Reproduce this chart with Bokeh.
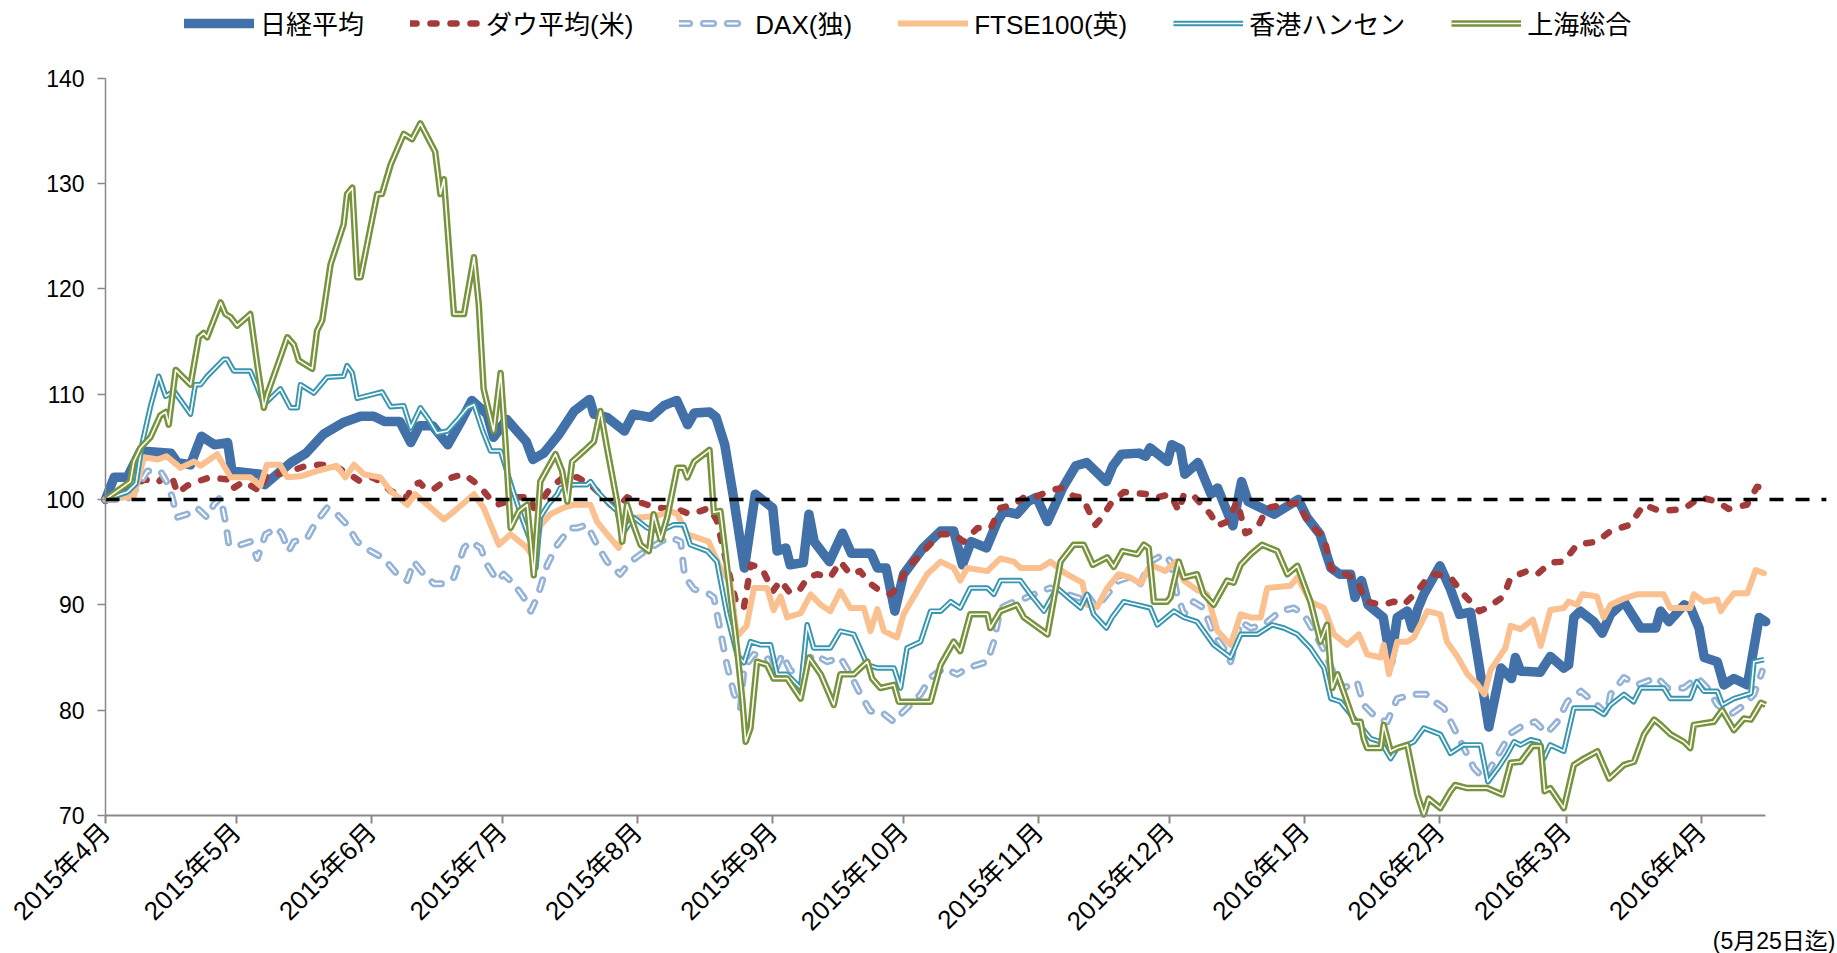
import math
from bokeh.plotting import figure
from bokeh.models import FixedTicker, Legend, LegendItem, Label, Range1d
from bokeh.embed import file_html
from bokeh.resources import INLINE

# ---------------- data (day offsets from 2015-04-01, index level, start = 100) ----------------
series_names = ["日経平均", "ダウ平均(米)", "DAX(独)", "FTSE100(英)", "香港ハンセン", "上海総合"]

month_labels = ["2015年4月", "2015年5月", "2015年6月", "2015年7月", "2015年8月", "2015年9月",
                "2015年10月", "2015年11月", "2015年12月", "2016年1月", "2016年2月", "2016年3月",
                "2016年4月"]
month_days = [0, 30, 61, 91, 122, 153, 183, 214, 244, 275, 306, 335, 366]
y_ticks = [70, 80, 90, 100, 110, 120, 130, 140]
base_level = 100
note_text = "(5月25日迄)"

nikkei_d = [0, 2, 5, 8, 15, 16.5, 19.5, 22, 25, 28, 29, 35.5, 36.5, 42.5, 46, 50, 54.5, 58.5, 61.5, 64,
            67.5, 70, 72, 75, 78.5, 81.5, 84, 87.5, 89, 92, 96.5, 98, 100.5, 104, 107.5, 111, 112, 115,
            119, 121, 125, 128, 131, 133.5, 135, 138.5, 140, 142, 144, 146.5, 149, 153, 154, 156, 157,
            160, 161.3, 162.5, 166, 169, 171, 175.5, 177, 179, 181, 183, 187.5, 190, 191.5, 194.5,
            196.5, 198.5, 202, 204.5, 206, 209, 211.5, 213.5, 216, 219.5, 222.5, 225, 229.5, 231, 233,
            237, 238.5, 239.5, 243.5, 244.5, 246.5, 247.5, 250.5, 253.5, 255, 258.5, 260.5, 262, 268,
            273.5, 275.5, 278.5, 281, 283, 285.5, 286.5, 288, 289.5, 293, 294.7, 296.2, 298.5, 299.6,
            301, 302.3, 306, 308.4, 310.5, 313, 315, 317.2, 320, 322.4, 323.3, 324.5, 329, 331.3,
            334.4, 335.5, 336.7, 338.2, 341.3, 343.2, 345.1, 348.2, 350, 352, 355.5, 356.6, 358.5,
            362, 363.5, 365.4, 366.6, 369.6, 371.1, 373.4, 376.5, 379.2, 380.7]
nikkei_v = [100, 102.1, 102.1, 104.6, 104.4, 103.5, 103.3, 106, 105.2, 105.4, 102.7, 102.4, 101.4,
            103.5, 104.4, 106.2, 107.3, 107.9, 107.9, 107.4, 107.4, 105.4, 107, 107, 105.2, 107.4,
            109.4, 108.1, 105.9, 107.6, 105.5, 103.8, 104.4, 106.2, 108.4, 109.5, 108.1, 107.8, 106.5,
            108.1, 107.8, 108.9, 109.4, 107.1, 108.2, 108.3, 107.8, 105.2, 100.2, 93.5, 100.5, 99.2,
            95.1, 95.4, 93.8, 94.0, 98.6, 96, 94.1, 96.8, 94.9, 94.9, 93.5, 93.5, 89.4, 92.9, 95.4,
            96.4, 97, 97, 93.8, 96, 95.4, 97.9, 98.9, 98.6, 99.8, 100.2, 97.9, 101.1, 103.2, 103.5,
            101.7, 103.2, 104.3, 104.4, 104.1, 104.9, 103.6, 105.2, 104.8, 102.4, 103.5, 100.5, 101.1,
            97.5, 101.7, 99.8, 98.6, 100, 98.3, 96.7, 93.5, 92.9, 92.9, 90.7, 92.3, 90, 88.8, 84.6,
            88.8, 89.4, 87.8, 89.7, 91.0, 93.7, 91.5, 89.1, 89.3, 84.2, 78.4, 84, 83, 85, 83.7, 83.6,
            85.1, 84, 84.3, 88.8, 89.4, 88.4, 87.3, 89.1, 90.3, 89.1, 87.8, 87.8, 89.4, 88.4, 90,
            89.7, 87.8, 85, 84.6, 82.4, 83, 82.4, 88.8, 88.4]

dow_d = [0, 4.5, 9, 12, 14, 15.3, 16.5, 18.7, 21, 24, 28, 29, 31.7, 35.5, 37, 40.5, 42.5, 46, 49, 52.5,
         54.6, 57, 58.5, 61.2, 63, 65.4, 67, 69.2, 70.3, 72, 73.4, 75.3, 77.6, 79.5, 82.2, 84.5, 86.7,
         88.7, 89.8, 92, 94.4, 97.5, 98.2, 100, 102, 105, 108.2, 111.2, 113.5, 115.8, 118, 119.6, 122,
         124.2, 126.5, 131, 134, 136.4, 138.5, 140.2, 142.5, 144.8, 146.4, 148, 150.5, 153, 154.8,
         157, 159.3, 161, 163.2, 166.2, 168.5, 170.8, 173, 175.4, 177.7, 180, 181.5, 183.8, 186, 189,
         191.5, 194.5, 196.8, 200, 203, 205.2, 208.3, 210.6, 213, 217, 219.5, 222, 224, 225.5, 227,
         228.5, 230.8, 233.5, 238.9, 241.2, 244.2, 246.1, 247.3, 249.6, 253.4, 254.9, 257.2, 259.5,
         261.4, 264.1, 266.4, 270.2, 273.3, 276.3, 279.4, 281, 282.5, 284.7, 287, 289, 293, 295.4,
         297.7, 300.8, 303.8, 305.3, 308.4, 311.4, 315, 316.8, 320.6, 322.2, 326, 328.3, 331.3, 334.4,
         337.4, 342, 345.1, 349.6, 352.7, 356.5, 361.9, 365.7, 369.5, 372.2, 376.4, 378.7, 380.2]
dow_v = [100, 101, 101.9, 101.6, 102.4, 102.1, 100.6, 101.3, 101.7, 102.1, 101.9, 101, 101.7, 100.8,
         102.4, 102.5, 102.7, 103.2, 103.3, 103.2, 102.7, 102.1, 101.7, 102.1, 101.7, 100.8, 100.5,
         100.2, 101.3, 101.6, 101, 101, 101.7, 102.1, 102.4, 101.7, 100.8, 99.8, 99.5, 99.8, 100.2,
         100.2, 99.2, 99.9, 101.1, 102.1, 102.1, 101.4, 100.5, 99.5, 99.5, 100.2, 99.8, 99.5, 99.2,
         99.1, 98.6, 98.9, 99.2, 98, 93.8, 89.9, 89.8, 93.8, 93.5, 91.3, 92.3, 91.1, 91.5, 92.6, 92.9,
         92.6, 94.1, 92.9, 93.2, 92, 91.3, 91, 91.6, 93.5, 94.4, 95.7, 96.7, 96.7, 96, 97.3, 97.3,
         99.2, 99.5, 100.2, 100.2, 100.9, 101.1, 100.3, 100.2, 98.9, 97.6, 98.3, 99.8, 100.7, 100.5,
         100.2, 100.5, 98.9, 100.5, 100.3, 98.6, 97.5, 97.9, 99.8, 96.8, 97.3, 99.2, 99.5, 99.7, 97.6,
         96.4, 93.5, 92.9, 92.9, 92.3, 90.3, 90, 90.3, 90, 91.3, 92.9, 92.9, 92.6, 91, 89.4, 89.7, 90.8,
         92.6, 93.2, 92.9, 94, 94.1, 95.7, 96, 97, 97.6, 99.5, 98.9, 99.1, 100.2, 99.8, 99.1, 99.5,
         101.2, 101.1]

dax_d = [0, 5, 7.3, 9.6, 12.6, 14, 15.3, 16.4, 18.7, 21, 23.3, 24.8, 26.4, 27.5, 28.3, 31, 33.2, 34.8,
         36.7, 39.4, 40.5, 42, 43.2, 46.2, 48.2, 50.8, 52.4, 55.4, 57.7, 60.8, 63.8, 66.9, 69.2, 70.7,
         73, 75.3, 77.6, 79.9, 82.2, 83.7, 86, 87.5, 89.8, 91.3, 93.6, 95.9, 97.5, 99, 101.3, 103.6,
         106.6, 108.2, 110.4, 112.7, 115, 118, 120.4, 122.7, 125, 127.3, 129.6, 131.9, 132.8, 134.9,
         138.5, 139.5, 141, 142.5, 144.1, 145.6, 146.4, 148.7, 151.7, 153.2, 155.2, 157.1, 160.1,
         162.4, 165.5, 168.5, 170.8, 173.1, 175.4, 177.7, 180.8, 182.3, 183.8, 186.9, 189.2, 192.2,
         195.3, 197.6, 199.9, 202.2, 203.7, 205.2, 208.3, 211.3, 214.4, 216.7, 219, 222, 224.3, 225.1,
         227.2, 229.7, 232.3, 234.6, 237.3, 239.6, 242.7, 244.2, 245.7, 247.3, 249.5, 251.8, 254.1,
         256.4, 258, 260.3, 262.6, 265.6, 269.4, 272.5, 274.8, 277, 279.4, 281.7, 284, 287, 288.5,
         291.6, 293.9, 296.2, 300, 302.8, 303.8, 306.9, 309.2, 311.5, 313.8, 316.1, 318.4, 322.2,
         325.2, 327.8, 330.5, 332.9, 335.2, 338.3, 342, 344.3, 345.1, 348.2, 351.2, 355.8, 358.1,
         361.9, 365, 367.3, 369.6, 372.7, 375.8, 378, 379.9]
dax_v = [100, 100, 101.1, 102.7, 102.7, 101.7, 100.2, 98.3, 98.6, 99.2, 98.3, 99.5, 100.2, 97.9, 95.7,
         95.7, 96, 94.4, 96.7, 97.3, 96.7, 95.1, 96, 96.3, 97.8, 99.2, 98.9, 97.6, 96, 95.1, 94.4, 92.9,
         92.3, 94.1, 92.9, 92, 92, 92.6, 95.4, 96, 95.4, 93.8, 92.3, 92.9, 92, 90.7, 89.4, 90.7, 93.8,
         95.7, 97.3, 97.3, 97.6, 95.7, 94.1, 92.9, 94.1, 94.8, 95.4, 96, 96.4, 96, 92.7, 91.5, 91,
         90.7, 87.5, 84.3, 81.6, 80.2, 84, 85.3, 85, 83.4, 85.3, 83.7, 84.3, 85.3, 84.6, 85, 83.4,
         81.5, 79.9, 79.9, 78.9, 79.6, 80.2, 81.5, 83.1, 84, 83.4, 84, 84.3, 84.6, 86.5, 89.7, 90.3,
         90.7, 91.3, 91.6, 91.2, 90.8, 90.5, 91, 89.7, 91, 92.3, 92.6, 92, 94.1, 94.8, 94.1, 91, 89.1,
         90.3, 89.7, 87.2, 85.9, 84.6, 88.4, 87.8, 88.1, 89.4, 89.7, 89.1, 87.5, 85.7, 83.4, 82.1,
         82.7, 80.5, 79.2, 78.9, 81.1, 81.5, 81.5, 81.1, 80.2, 78.3, 76.4, 74.5, 73.5, 75.1, 77.8,
         78.6, 78.9, 77.8, 78.9, 80.8, 81.8, 80.5, 79.6, 81.5, 83.1, 82.4, 83.1, 82.1, 82.1, 83.1,
         82.1, 80.5, 79.6, 80.5, 81.5, 83.7]

ftse_d = [0, 6.5, 8.8, 12, 14, 17.2, 20.3, 21.8, 25.6, 28.7, 33.2, 35.5, 37, 40, 41.7, 44.7, 49.3, 53,
          55, 57, 59.2, 63, 65.4, 69.2, 71, 73.8, 77.6, 80, 84.5, 86.7, 90.2, 92.9, 96.7, 98.2, 99.7,
          102, 105, 107.4, 111.2, 112.7, 115, 117.7, 119.6, 122, 126, 129.6, 131.1, 133.4, 138.3, 141,
          143.3, 144.8, 147, 148.7, 151.7, 153.2, 154.8, 156.3, 159.4, 161.7, 164, 166.2, 168.5, 170.8,
          173.9, 175.4, 177, 178.5, 181.5, 183, 186.1, 188.4, 191.5, 194.5, 196, 197.6, 202.2, 205.2,
          208.3, 209.8, 214.4, 216.7, 220, 224, 225.1, 227.4, 229.7, 232.3, 235, 237.3, 239.6, 243,
          245.4, 247.3, 250.3, 252.6, 255, 258, 260.3, 262.6, 264.9, 266.4, 271.7, 273.3, 276.3, 279.4,
          281.7, 284.7, 287.4, 289.3, 292.4, 293.1, 294.3, 296.2, 298.5, 300, 301.5, 303.1, 306.1,
          307.6, 310, 312.3, 314.5, 316.2, 317.6, 321, 322.2, 324.5, 327.3, 329.1, 331.3, 334.4, 335.5,
          337.4, 338.6, 342, 343.5, 345.1, 348.2, 351.2, 357.3, 358.8, 363.4, 364.2, 366.5, 369.6,
          370.4, 371.9, 373.4, 376.5, 378.4, 380.3]
ftse_v = [100, 100.3, 104, 103.8, 104.1, 103, 103.6, 103.2, 104.3, 102.1, 102.1, 101.3, 103.3, 103.3,
          102.1, 102.2, 102.8, 103.2, 102.1, 103.3, 102.4, 102.1, 100.8, 99.5, 100.5, 99.5, 98.1, 98.9,
          100.5, 99.2, 95.7, 96.7, 95.4, 94.4, 97.5, 98.6, 99.2, 99.5, 99.5, 97.9, 96.7, 95.4, 97.9,
          98.3, 98.4, 98.9, 98.6, 96.7, 96, 93.5, 92, 87, 88, 91.6, 91.6, 89.5, 90.8, 88.8, 89.2, 91,
          90, 89.4, 91.3, 89.7, 89.7, 87.5, 89.6, 87.5, 86.9, 89.1, 91.3, 92.9, 94.1, 93.5, 92.3, 93.5,
          93.2, 94.4, 94.1, 93.5, 93.5, 94.1, 93, 92.1, 90, 89.8, 91.6, 92.9, 92.6, 92, 93.8, 93.2,
          94.1, 92.3, 91.4, 91, 87.5, 86.2, 89.1, 88.8, 88.8, 91.6, 91.8, 92.6, 90.3, 89.7, 87.2, 86.2,
          87.2, 85.3, 85, 86.2, 83.4, 86.5, 86.5, 86.9, 88.1, 89.4, 89.1, 86.5, 85.1, 83.4, 82.5, 81.5,
          83.8, 85.9, 88, 87.7, 88.6, 86.1, 89.5, 89.7, 90.3, 90, 91, 90.8, 88.8, 90, 90.6, 91, 91,
          89.7, 89.7, 91, 90.3, 90.5, 89.4, 90.3, 91.1, 91.1, 93.3, 93]

hsi_d = [0, 5, 7, 8.5, 10.3, 12.2, 13.8, 15.7, 19.5, 20.6, 21.8, 23.3, 27.1, 27.9, 29.4, 33.2, 34.8,
         36.3, 40.1, 42.4, 44, 44.7, 47.8, 50.8, 54.6, 55.4, 56.6, 57.7, 61.5, 63.4, 65.4, 68.4, 70,
         72.2, 74.1, 76, 78.4, 80.6, 83, 84.5, 86.5, 88.3, 90.6, 93.3, 95.7, 97.5, 98.7, 99.7, 101.5,
         103.6, 104.3, 107.4, 110.4, 111.2, 112.7, 115, 117.3, 118.5, 121.1, 124.2, 127.3, 130.3,
         132.6, 134.1, 138, 140.2, 142.5, 144.8, 146.4, 147.9, 150.2, 152.5, 154, 156.3, 159.4, 160.9,
         162.4, 166.2, 168.5, 171.6, 174.7, 177, 180.8, 182.3, 183.8, 186.9, 189.2, 191.5, 193.8, 196,
         198.3, 202.2, 203.7, 205.2, 209.8, 212.1, 215.2, 218.2, 221.3, 223.6, 225.1, 226.6, 229.5,
         230.8, 233.5, 236.6, 239.6, 241.2, 245, 247.3, 250.3, 254.1, 258, 260.3, 264.1, 267.5, 270.2,
         273.3, 276.3, 279.4, 281, 283.2, 285.5, 287, 290.1, 292.4, 294.7, 296.2, 298.5, 300, 302.3,
         306.1, 308.4, 311.4, 315.3, 317, 319.5, 321.4, 323, 324.5, 326.8, 328.7, 329.8, 331.3, 334.4,
         336.7, 341.3, 343.6, 345.1, 348.2, 350.4, 352, 357.3, 358.8, 363.4, 364.9, 366.5, 369.6,
         370.8, 373.4, 377.3, 378, 380.3]
hsi_v = [100, 100.7, 101.5, 105.5, 108.8, 111.7, 109.8, 110.3, 108.1, 110.9, 110.9, 111.7, 113.3, 113.3,
         112.2, 112.2, 110.6, 109, 110.5, 108.7, 108.7, 110.9, 110.1, 111.6, 111.7, 112.7, 112, 109.6,
         110, 110.2, 108.8, 108.9, 106.8, 108.7, 107.6, 106.3, 106.5, 107.5, 108.7, 109, 106.5, 104.6,
         104.6, 101, 98, 96, 93.5, 98.3, 99.5, 100.5, 101.1, 101.4, 101.4, 101.7, 100.8, 99.8, 98.9,
         96.7, 98.3, 97.3, 97, 97.6, 97.6, 95.7, 95.1, 94.1, 89.1, 85.3, 84.5, 86.5, 86.2, 86.2, 83.4,
         83.4, 82.1, 88.1, 85.9, 85.9, 87.5, 87.2, 84.3, 84, 84, 82.1, 85.9, 86.5, 89.4, 89.4, 90.3,
         89.7, 91.6, 91.6, 91, 92.3, 92.3, 91, 89.4, 91.6, 90.5, 89.7, 91, 89.1, 87.8, 88.8, 90.3, 90,
         89.7, 88.1, 89.4, 88.8, 88.4, 86.2, 85, 87.2, 87.2, 88.1, 87.8, 87.2, 85.9, 84, 81.1, 80.8,
         79.6, 78.9, 77.3, 77, 75.4, 76.4, 76.7, 77, 78.3, 77.7, 75.9, 76.7, 76.7, 73.2, 74.6, 75.8, 77,
         76.7, 77.2, 77, 75.4, 76.7, 76.1, 80.2, 80.2, 79.6, 80.5, 81.5, 80.8, 82.1, 82.1, 81.1, 81.1,
         82.7, 81.8, 81.8, 80.5, 81.1, 81.6, 84.6, 84.8]

shc_d = [0, 5.7, 6.5, 8, 10.3, 12.6, 13.8, 14.5, 16.1, 19.5, 21.4, 22.5, 23.3, 26.4, 27.5, 28.7, 30.2,
         33.2, 34.8, 36.3, 37.1, 40.1, 41.7, 43.2, 44.3, 47.4, 48.5, 49.7, 51.6, 54.6, 55.4, 56.6, 57.7,
         58.5, 62.3, 63.4, 65.4, 68.4, 70.3, 72.2, 75.6, 76.8, 77.6, 79.1, 79.9, 82.2, 84.5, 85.6, 86.7,
         89, 90.6, 91.7, 92.9, 94.8, 96.7, 98.2, 99.7, 103.2, 104.7, 105.9, 107, 109.7, 112, 113.5, 115,
         117.3, 118.5, 119.6, 120.8, 122.7, 124.6, 125.7, 127.3, 128.8, 131.1, 132.6, 133.4, 135,
         138.5, 139.5, 141, 143.3, 144.8, 146, 146.8, 147.9, 149.4, 151.7, 153.2, 156.3, 159.4, 161.3,
         164, 167, 168.5, 171.6, 174.7, 175.8, 177.7, 180.8, 181.9, 189.2, 191.5, 194.5, 196, 198.3,
         202.2, 202.9, 205.2, 209, 210.6, 216, 219, 222, 224.3, 226.4, 229.7, 231.2, 233.2, 236.6,
         238.1, 239.2, 240.4, 243.4, 244.2, 246.1, 247.3, 250.3, 251.8, 254.1, 257.2, 258.7, 260.3,
         262.6, 265.2, 268.7, 271, 273.3, 276.3, 278.6, 280.1, 281.3, 282.5, 284.7, 286.3, 287.8,
         288.5, 289.3, 292.4, 293.1, 294.7, 296.2, 298.5, 300.8, 302.3, 303.4, 306.1, 308.4, 309.5,
         312.2, 316.8, 320.3, 322.2, 324.5, 327.2, 329.1, 330, 331.3, 334.4, 336.7, 339, 342.1, 344.8,
         348.2, 350.5, 352.8, 355.1, 356.6, 358.9, 361.9, 363.4, 364.2, 368.8, 370.7, 373.4, 375.7,
         377.3, 379.6, 380.7]
shc_v = [100, 101.7, 103.6, 104.9, 105.9, 108, 108.3, 107.1, 112.3, 110.9, 115.4, 115.8, 115.4, 118.7,
         117.6, 117.3, 116.5, 117.6, 112.8, 108.7, 110, 113.5, 115.4, 114.7, 113.2, 112.4, 116, 117,
         122.3, 126.1, 129, 129.6, 121.1, 121.1, 129, 129, 131.8, 134.7, 134.2, 135.7, 133, 129, 130.4,
         122, 117.6, 117.6, 123, 118.5, 110.5, 106.5, 112, 105.5, 97.3, 98.9, 99.5, 92.8, 101.7, 104.3,
         102.7, 99.8, 103.6, 104.6, 105.5, 108.4, 104.9, 99.8, 96, 99.5, 97.9, 95.7, 95.1, 98.6, 96.2,
         98.3, 103, 103, 102.1, 103.6, 104.7, 98.8, 98.9, 91, 85.9, 81.1, 77, 78.3, 84.6, 84.3, 83, 83,
         81.1, 85, 83.4, 80.5, 83.4, 83.4, 84.6, 83, 82.1, 82.4, 80.8, 80.8, 84.3, 86.5, 85.6, 89.1,
         89.1, 87.8, 89.4, 90, 88.8, 87.2, 94.1, 95.7, 95.7, 93.8, 94.5, 93.6, 95.1, 94.8, 95.7, 95.4,
         90.3, 90.3, 90.7, 94.1, 92.6, 92.9, 91, 90, 92.3, 92.1, 93.8, 94.8, 95.7, 95.1, 92.9, 93.7,
         90.3, 86.5, 88.1, 82.1, 83.4, 80.8, 78.9, 78.9, 77.3, 76.4, 76.4, 78.6, 76.1, 76.4, 76.7, 72,
         70.1, 71.6, 70.7, 72.3, 72.9, 72.6, 72.6, 72, 75, 75.1, 76.6, 76.6, 72.3, 72.6, 70.7, 74.8,
         75.4, 76.1, 73.5, 74.8, 75.1, 77.7, 79.1, 78.6, 77.7, 77, 76.4, 78.6, 78.9, 80, 78.1, 79.2,
         79.1, 80.7, 80.5]

# ---------------- layout / style ----------------
FONT = "'Liberation Sans', 'Noto Sans CJK JP', sans-serif"
W, H = 1837, 953
X0_PX, X_PX_PER_DAY = 105, 4.361          # pixel of day 0, px per day
Y_TOP_PX, Y_BOT_PX = 77.6, 815.0          # pixels of 140 and 70
Y_PX_PER_UNIT = (Y_BOT_PX - Y_TOP_PX) / 70.0
axis_end_day = 380.7
ref_line_end = 394.6

x_start = -X0_PX / X_PX_PER_DAY
x_stop = (W - X0_PX) / X_PX_PER_DAY
y_stop = 140 + Y_TOP_PX / Y_PX_PER_UNIT
y_start = 70 - (H - Y_BOT_PX) / Y_PX_PER_UNIT

p = figure(width=W, height=H, x_range=Range1d(x_start, x_stop), y_range=Range1d(y_start, y_stop),
           output_backend="svg", toolbar_location=None, min_border=0,
           min_border_left=0, min_border_right=0, min_border_top=0, min_border_bottom=0)
p.xgrid.visible = False
p.ygrid.visible = False
p.outline_line_color = None
p.background_fill_color = "white"
p.border_fill_color = "white"

AX = "#898989"
xa = p.xaxis[0]
xa.fixed_location = 70
xa.ticker = FixedTicker(ticks=month_days)
xa.major_label_overrides = {d: lab for d, lab in zip(month_days, month_labels)}
xa.major_label_orientation = math.pi / 4
xa.bounds = (0, axis_end_day)
xa.axis_line_color = AX
xa.axis_line_width = 2
xa.major_tick_line_color = AX
xa.major_tick_line_width = 2
xa.major_tick_out = 8
xa.major_tick_in = 0
xa.minor_tick_line_color = None
xa.major_label_text_font = FONT
xa.major_label_text_font_size = "26px"
xa.major_label_text_color = "black"
xa.major_label_standoff = 4

ya = p.yaxis[0]
ya.fixed_location = 0
ya.ticker = FixedTicker(ticks=y_ticks)
ya.bounds = (70, 140)
ya.axis_line_color = AX
ya.axis_line_width = 1.5
ya.major_tick_line_color = AX
ya.major_tick_line_width = 1.5
ya.major_tick_out = 8
ya.major_tick_in = 0
ya.minor_tick_line_color = None
ya.major_label_text_font = FONT
ya.major_label_text_font_size = "23px"
ya.major_label_text_color = "black"
ya.major_label_standoff = 13

common = dict(line_join="round")
r_nk = [p.line(nikkei_d, nikkei_v, line_color="#4270A8", line_width=9.5, line_cap="round", **common)]
r_dow = [p.line(dow_d, dow_v, line_color="#A33B3A", line_width=6.5, line_dash="6 14",
                line_cap="round", **common)]
r_dax = [p.line(dax_d, dax_v, line_color="#95B3D7", line_width=7, line_dash="10 14",
                line_cap="round", **common),
         p.line(dax_d, dax_v, line_color="white", line_width=1.8, line_dash="10 14",
                line_cap="round", **common)]
r_ftse = [p.line(ftse_d, ftse_v, line_color="#FAC08F", line_width=6, line_cap="round", **common)]
r_hsi = [p.line(hsi_d, hsi_v, line_color="#3996B1", line_width=5.5, **common),
         p.line(hsi_d, hsi_v, line_color="white", line_width=1.6, **common)]
r_shc = [p.line(shc_d, shc_v, line_color="#77933C", line_width=6.5, **common),
         p.line(shc_d, shc_v, line_color="white", line_width=1.6, **common)]

p.line([0, ref_line_end], [base_level, base_level], line_color="black", line_width=3.5,
       line_dash="14 12")

legend = Legend(items=[LegendItem(label=n, renderers=rs) for n, rs in
                       zip(series_names, [r_nk, r_dow, r_dax, r_ftse, r_hsi, r_shc])],
                location=(184, H - 41), orientation="horizontal", border_line_color=None,
                background_fill_alpha=0, padding=0, margin=0, spacing=46,
                glyph_width=70, glyph_height=20, label_standoff=6,
                label_text_font=FONT, label_text_font_size="26px", label_text_color="black")
p.add_layout(legend)

note = Label(x=(1835 - X0_PX) / X_PX_PER_DAY, y=70 - (940 - Y_BOT_PX) / Y_PX_PER_UNIT,
             text=note_text, text_align="right", text_baseline="middle", text_font=FONT,
             text_font_size="23px", text_color="black")
p.add_layout(note)

open("out.html", "w").write(file_html(p, INLINE))
